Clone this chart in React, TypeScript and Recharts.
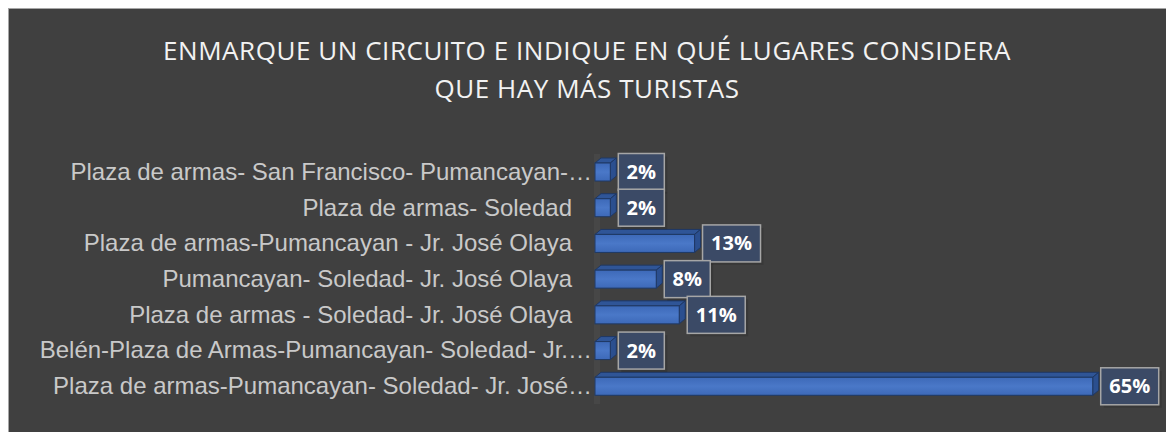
import React from "react";
import { BarChart, Bar, XAxis, YAxis, LabelList } from "recharts";

const categories = [
  "Plaza de armas- San Francisco- Pumancayan-…",
  "Plaza de armas- Soledad",
  "Plaza de armas-Pumancayan - Jr. José Olaya",
  "Pumancayan- Soledad- Jr. José Olaya",
  "Plaza de armas - Soledad- Jr. José Olaya",
  "Belén-Plaza de Armas-Pumancayan- Soledad- Jr.…",
  "Plaza de armas-Pumancayan- Soledad- Jr. José…",
];
const values = [2, 2, 13, 8, 11, 2, 65];
const valueLabels = ["2%", "2%", "13%", "8%", "11%", "2%", "65%"];
const titleLines = [
  "ENMARQUE UN CIRCUITO E INDIQUE EN QUÉ LUGARES CONSIDERA",
  "QUE HAY MÁS TURISTAS",
];

const data = categories.map((name, i) => ({ name, value: values[i], label: valueLabels[i] }));

const W = 1163;
const H = 424;
const DX = 6;
const DY = 5;

const Bar3D = (props: any) => {
  const { x, y, width, height } = props;
  if (width == null || height == null) return null;
  const w = Math.max(width, 0);
  const stroke = "#1f3864";
  return (
    <g>
      <polygon
        points={`${x},${y} ${x + DX},${y - DY} ${x + w + DX},${y - DY} ${x + w},${y}`}
        fill="#2f5597"
        stroke={stroke}
        strokeWidth={1}
      />
      <polygon
        points={`${x + w},${y} ${x + w + DX},${y - DY} ${x + w + DX},${y + height - DY} ${x + w},${y + height}`}
        fill="#2b4f8f"
        stroke={stroke}
        strokeWidth={1}
      />
      <rect x={x} y={y} width={w} height={height} fill="url(#frontGrad)" stroke={stroke} strokeWidth={1} />
    </g>
  );
};

const renderLabel = (props: any) => {
  const { x, y, width, height, index } = props;
  const text = valueLabels[index];
  const bw = text.length <= 2 ? 46 : 58;
  const bh = 37;
  const bx = x + width + 8;
  const cy = y + height / 2;
  return (
    <g>
      <rect x={bx + 3} y={cy - bh / 2 + 3} width={bw} height={bh} fill="#000" opacity={0.12} />
      <rect x={bx} y={cy - bh / 2} width={bw} height={bh} fill="#3b4a66" stroke="#a6a6a6" strokeWidth={1.5} />
      <text
        x={bx + bw / 2}
        y={cy + 7}
        textAnchor="middle"
        fill="#ffffff"
        fontFamily="'Open Sans', sans-serif"
        fontWeight={700}
        fontSize={20}
      >
        {text}
      </text>
    </g>
  );
};

const renderTick = (props: any) => {
  const { x, y, payload } = props;
  const label: string = payload.value;
  const truncated = label.endsWith("…");
  const tx = truncated ? x - 3 : x - 23;
  return (
    <text
      x={tx}
      y={y + 8}
      textAnchor="end"
      fill="#c9c9c9"
      fontFamily="'Liberation Sans', Arial, sans-serif"
      fontSize={24}
    >
      {label}
    </text>
  );
};

export default function App() {
  return (
    <div
      style={{
        position: "relative",
        width: W,
        height: H,
        background: "#404040",
        border: "1px solid #a6a6a6",
      }}
    >
      <svg width={W} height={H} style={{ position: "absolute", left: 0, top: 0 }}>
        {titleLines.map((t, i) => (
          <text
            key={i}
            x={578}
            y={51 + i * 38}
            textAnchor="middle"
            fill="#f2f2f2"
            fontFamily="'Open Sans', sans-serif"
            fontSize={26}
            letterSpacing={0.55}
          >
            {t}
          </text>
        ))}
        <rect x={585} y={145} width={6} height={250} fill="#474747" />
      </svg>
      <div style={{ position: "absolute", left: 0, top: 0 }}>
        <BarChart
          width={W}
          height={H}
          data={data}
          layout="vertical"
          margin={{ top: 145, right: 41, bottom: 29, left: 0 }}
        >
          <defs>
            <linearGradient id="frontGrad" x1="0" y1="0" x2="0" y2="1">
              <stop offset="0%" stopColor="#3d69b8" />
              <stop offset="50%" stopColor="#4a78c8" />
              <stop offset="100%" stopColor="#3d69b8" />
            </linearGradient>
          </defs>
          <XAxis type="number" domain={[0, 70]} hide />
          <YAxis
            type="category"
            dataKey="name"
            width={586}
            axisLine={false}
            tickLine={false}
            tickSize={0}
            tickMargin={0}
            interval={0}
            tick={renderTick}
          />
          <Bar dataKey="value" barSize={18} shape={Bar3D} isAnimationActive={false}>
            <LabelList dataKey="label" content={renderLabel} />
          </Bar>
        </BarChart>
      </div>
    </div>
  );
}
